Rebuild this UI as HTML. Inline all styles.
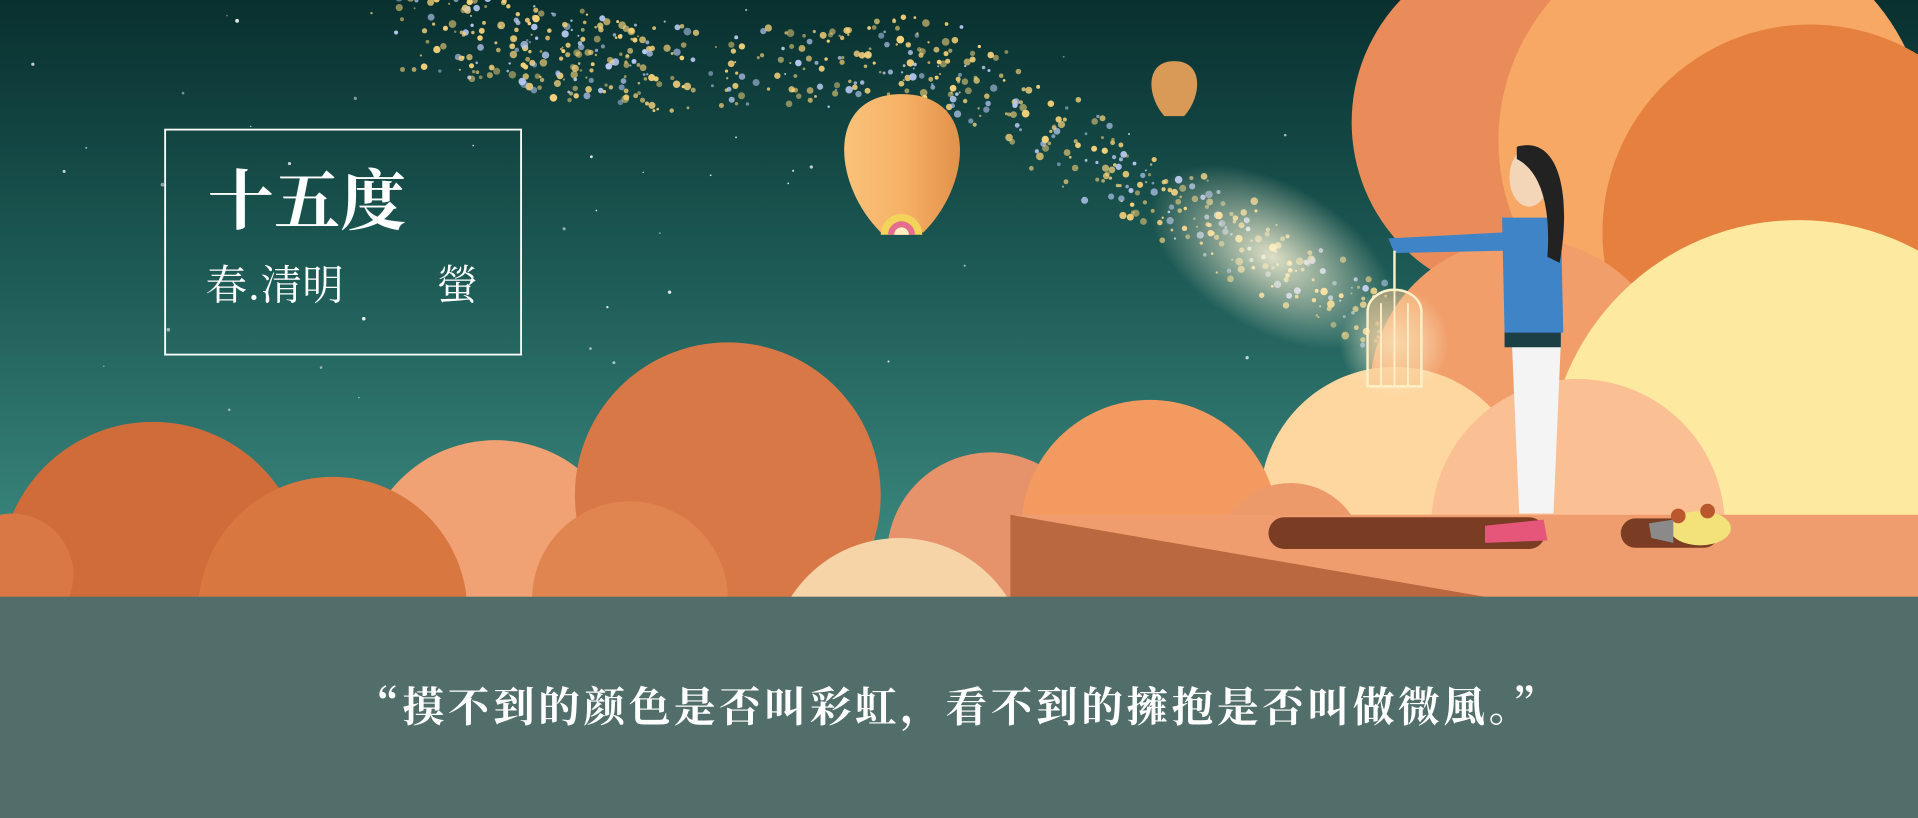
<!DOCTYPE html>
<html><head><meta charset="utf-8">
<style>
html,body{margin:0;padding:0;background:#516e6a;}
svg{display:block}
</style></head>
<body>
<svg width="1918" height="818" viewBox="0 0 1568 669" preserveAspectRatio="none" xmlns="http://www.w3.org/2000/svg">
<defs>
<linearGradient id="sky" x1="0" y1="0" x2="0" y2="1">
<stop offset="0" stop-color="#08302f"/><stop offset="0.45" stop-color="#1d5a55"/><stop offset="1" stop-color="#3f8f85"/>
</linearGradient>
<radialGradient id="glow" cx="0.5" cy="0.5" r="0.5">
<stop offset="0" stop-color="#fff6d8" stop-opacity="0.85"/><stop offset="1" stop-color="#fff6d8" stop-opacity="0"/>
</radialGradient>
<linearGradient id="lan" x1="0" y1="0" x2="1" y2="0">
<stop offset="0" stop-color="#f9c27a"/><stop offset="0.5" stop-color="#f6b266"/><stop offset="1" stop-color="#e2914a"/>
</linearGradient>
</defs>
<rect x="0" y="0" width="1568" height="490" fill="url(#sky)"/>
<g id="stars"></g>
<g id="sparkles"></g>
<ellipse cx="1040" cy="210" rx="110" ry="60" fill="url(#glow)" transform="rotate(30 1040 210)"/>
<g>
<circle cx="1250" cy="100" r="145" fill="#e98c5a"/>
<circle cx="1400" cy="115" r="175" fill="#f7a865"/>
<circle cx="1480" cy="190" r="170" fill="#e6803f"/>
<circle cx="1245" cy="320" r="125" fill="#f19e6a"/>
<circle cx="1470" cy="385" r="205" fill="#fde9a0"/>
<circle cx="1140" cy="410" r="110" fill="#fdd6a0"/>
<circle cx="1290" cy="430" r="120" fill="#fbbf94"/>
</g>
<g>
<circle cx="125" cy="470" r="125" fill="#d06c3a"/>
<circle cx="10" cy="470" r="50" fill="#d97844"/>
<circle cx="405" cy="470" r="110" fill="#f0a275"/>
<circle cx="272" cy="500" r="110" fill="#d8773f"/>
<circle cx="595" cy="405" r="125" fill="#d87846"/>
<circle cx="515" cy="490" r="80" fill="#e08550"/>
<circle cx="810" cy="455" r="85" fill="#e6926a"/>
<circle cx="940" cy="432" r="105" fill="#f39a60"/>
<circle cx="1055" cy="455" r="60" fill="#ed9a6a"/>
<circle cx="735" cy="545" r="105" fill="#f6d4a8"/>
</g>
<g>
<rect x="826" y="421" width="742" height="70" fill="#ef9c6e"/>
<polygon points="826,421 826,490 1225,490" fill="#b9683f"/>
<rect x="1037" y="423" width="226" height="26" rx="13" fill="#7a3c22"/>
<rect x="1325" y="424" width="80" height="24" rx="12" fill="#7a3c22"/>
</g>
<g>
<path d="M737,77 C800,77 795,150 755,190 L720,190 C680,150 675,77 737,77Z" fill="url(#lan)"/>
<path d="M720,192 a17,17 0 0 1 34,0" fill="#f3d35a"/>
<path d="M726,192 a11,11 0 0 1 22,0" fill="#e56d8e"/>
<path d="M731,192 a6,6 0 0 1 12,0" fill="#fff2c0"/>
</g>
<g>
<path d="M960,50 C985,50 982,80 968,95 L952,95 C938,80 935,50 960,50Z" fill="#d89a56"/>
</g>
<g>
<path d="M1236,280 L1276,280 L1270,420 L1242,420Z" fill="#f4f4f4"/>
<rect x="1230" y="270" width="46" height="14" fill="#1b3f44"/>
<path d="M1228,178 L1276,178 L1278,272 L1230,272Z" fill="#3f84c6"/>
<path d="M1135,195 L1230,190 L1232,205 L1140,207Z" fill="#3f84c6"/>
<ellipse cx="1250" cy="145" rx="16" ry="24" fill="#f3d6b8"/>
<path d="M1240,120 C1275,110 1285,160 1275,215 L1265,210 C1268,170 1260,140 1240,130Z" fill="#222"/>
<path d="M1214,430 L1262,425 L1265,442 L1214,444Z" fill="#e5567a"/>
</g>
<g>
<circle cx="1140" cy="280" r="45" fill="url(#glow)"/>
<line x1="1140" y1="205" x2="1140" y2="240" stroke="#fdf0c8" stroke-width="2"/>
<path d="M1118,255 a22,18 0 0 1 44,0 L1162,316 L1118,316Z" fill="#f6c48a" fill-opacity="0.5" stroke="#fff0c8" stroke-width="2"/>
<g stroke="#fff0c8" stroke-width="1.5"><line x1="1129" y1="248" x2="1129" y2="316"/><line x1="1140" y1="240" x2="1140" y2="316"/><line x1="1151" y1="248" x2="1151" y2="316"/></g>
</g>
<g>
<ellipse cx="1390" cy="432" rx="25" ry="14" fill="#f3e27a"/>
<circle cx="1372" cy="422" r="6" fill="#b8582c"/><circle cx="1396" cy="418" r="6" fill="#b8582c"/>
<path d="M1348,428 L1368,425 L1368,444 L1350,440Z" fill="#8a8a8a"/>
</g>
<rect x="135" y="106" width="291" height="184" fill="none" stroke="#ffffff" stroke-width="1.5"/>
<text x="170" y="183" fill="#fff" font-size="54" font-family="'Noto Serif CJK SC','Liberation Serif',serif" font-weight="700">十五度</text>
<text x="168" y="245" fill="#fff" font-size="34" font-family="'Noto Serif CJK SC','Liberation Serif',serif">春.清明</text>
<text x="357" y="245" fill="#fff" font-size="34" font-family="'Noto Serif CJK SC','Liberation Serif',serif">螢</text>
<rect x="0" y="488" width="1568" height="181" fill="#516e6a"/>
<text x="783" y="590" text-anchor="middle" fill="#fff" font-size="34" letter-spacing="3" font-family="'Noto Serif CJK SC','Liberation Serif',serif" font-weight="700">“摸不到的颜色是否叫彩虹，看不到的擁抱是否叫做微風。”</text>
</svg>
<script>
var s=7;function r(){s=(s*9301+49297)%233280;return s/233280;}
var NS='http://www.w3.org/2000/svg';
var st=document.getElementById('stars');
for(var i=0;i<45;i++){var c=document.createElementNS(NS,'circle');


c.setAttribute('cx',r()*1100);c.setAttribute('cy',r()*340);c.setAttribute('r',0.6+r()*1.0);c.setAttribute('fill','#ffffff');c.setAttribute('fill-opacity',0.4+r()*0.5);st.appendChild(c);}
var sp=document.getElementById('sparkles');
for(var i=0;i<700;i++){var t=r();
var x=340+t*800, y;
y= t<0.5 ? 10+ 30*Math.sin(t*6)+t*60 : 40+(t-0.5)*2*230;
x+= (r()-0.5)*90*(1-t*0.5); y+=(r()-0.5)*80*(1-t*0.4);
var c=document.createElementNS(NS,'circle');


c.setAttribute('cx',x);c.setAttribute('cy',y);c.setAttribute('r',0.8+r()*2.4);
var col=r()<0.3?'#b8c8f0':'#f7d27a';c.setAttribute('fill',col);c.setAttribute('fill-opacity',0.5+r()*0.5);sp.appendChild(c);}
</script>
</body></html>
